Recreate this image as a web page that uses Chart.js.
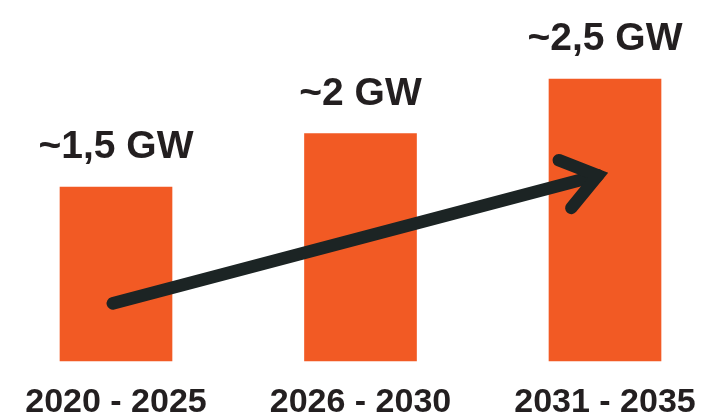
<!DOCTYPE html>
<html lang="de">
<head>
    <meta charset="UTF-8">
    <title>Kapazität</title>
    <style>
        body {
            margin: 0;
            background-color: #fff;
        }
        #chart {
            display: block;
        }
    </style>
    <script src="https://cdn.jsdelivr.net/npm/chart.js"></script>
</head>
<body>
    <canvas id="chart" width="706" height="417"></canvas>
    <script>
        // values
        const periods = ['2020 - 2025', '2026 - 2030', '2031 - 2035'];
        const capacity = [1.53, 2.0, 2.48];
        const valueLabels = ['~1,5 GW', '~2 GW', '~2,5 GW'];

        // trend arrow, in data units (x = category index, y = GW)
        const arrowFrom = [-0.013, 0.507];
        const arrowTo = [1.971, 1.633];

        const barColor = '#f25a24';
        const textColor = '#231f20';
        const arrowColor = '#1c2424';

        const valueLabelPlugin = {
            id: 'valueLabels',
            afterDatasetsDraw(chart) {
                const ctx = chart.ctx;
                const bars = chart.getDatasetMeta(0).data;
                ctx.save();
                ctx.font = 'bold 39px "Liberation Sans", Arial, sans-serif';
                ctx.fillStyle = textColor;
                ctx.textAlign = 'center';
                ctx.textBaseline = 'alphabetic';
                bars.forEach((bar, i) => {
                    ctx.fillText(valueLabels[i], bar.x, bar.y - 29);
                });
                ctx.restore();
            }
        };

        const arrowPlugin = {
            id: 'trendArrow',
            afterDatasetsDraw(chart) {
                const ctx = chart.ctx;
                const xs = chart.scales.x;
                const ys = chart.scales.y;
                const x1 = xs.getPixelForValue(arrowFrom[0]);
                const y1 = ys.getPixelForValue(arrowFrom[1]);
                const x2 = xs.getPixelForValue(arrowTo[0]);
                const y2 = ys.getPixelForValue(arrowTo[1]);
                const angle = Math.atan2(y2 - y1, x2 - x1);
                const headLen = 42;
                const spread = 36 * Math.PI / 180;

                ctx.save();
                ctx.strokeStyle = arrowColor;
                ctx.lineWidth = 12.5;
                ctx.lineCap = 'round';
                ctx.lineJoin = 'miter';

                ctx.beginPath();
                ctx.moveTo(x1, y1);
                ctx.lineTo(x2, y2);
                ctx.stroke();

                ctx.beginPath();
                ctx.moveTo(x2 - headLen * Math.cos(angle - spread), y2 - headLen * Math.sin(angle - spread));
                ctx.lineTo(x2, y2);
                ctx.lineTo(x2 - headLen * Math.cos(angle + spread), y2 - headLen * Math.sin(angle + spread));
                ctx.stroke();
                ctx.restore();
            }
        };

        new Chart(document.getElementById('chart'), {
            type: 'bar',
            data: {
                labels: periods,
                datasets: [{
                    data: capacity,
                    backgroundColor: barColor,
                    borderWidth: 0,
                    barThickness: 112,
                    clip: false
                }]
            },
            options: {
                responsive: false,
                animation: false,
                layout: {
                    padding: { left: 116, right: 101, top: 20, bottom: -3 }
                },
                plugins: {
                    legend: { display: false },
                    tooltip: { enabled: false }
                },
                scales: {
                    x: {
                        offset: false,
                        // invisible tick marks just push the labels down
                        grid: {
                            color: 'rgba(0,0,0,0)',
                            drawOnChartArea: false,
                            drawTicks: true,
                            tickLength: 25
                        },
                        border: { display: false },
                        ticks: {
                            color: textColor,
                            padding: 0,
                            maxRotation: 0,
                            autoSkip: false,
                            font: { family: '"Liberation Sans", Arial, sans-serif', size: 34, weight: 'bold', lineHeight: 1 }
                        }
                    },
                    y: {
                        display: false,
                        min: 0,
                        max: 3
                    }
                }
            },
            plugins: [valueLabelPlugin, arrowPlugin]
        });
    </script>
</body>
</html>
